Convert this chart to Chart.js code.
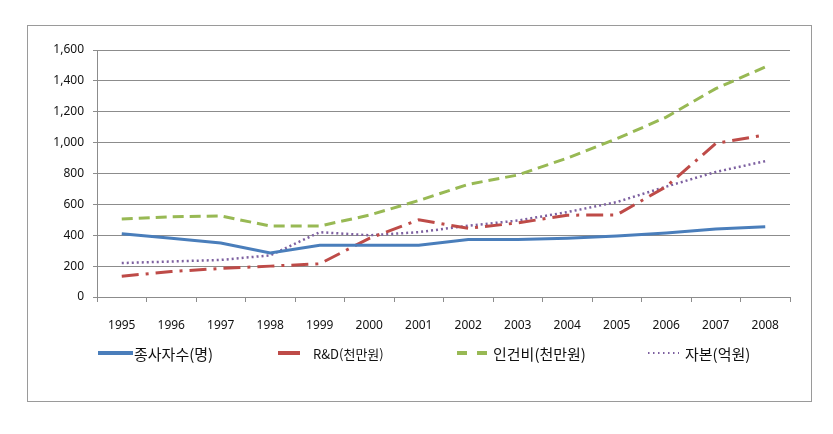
<!DOCTYPE html>
<html>
<head>
<meta charset="utf-8">
<script src="https://cdn.jsdelivr.net/npm/chart.js@4/dist/chart.umd.min.js"></script>
<style>
  html, body { margin: 0; padding: 0; background: #fff; }
  #wrap { width: 833px; height: 434px; }
</style>
</head>
<body>
<div id="wrap"><canvas id="lineChart" width="833" height="434"></canvas></div>
<script>
const years = ['1995', '1996', '1997', '1998', '1999', '2000', '2001', '2002', '2003', '2004', '2005', '2006', '2007', '2008'];
const employees = [410, 380, 350, 285, 335, 335, 335, 372, 372, 380, 395, 415, 440, 455];
const rnd = [135, 165, 185, 200, 215, 380, 500, 445, 480, 530, 532, 715, 995, 1050];
const labor = [505, 520, 525, 460, 460, 530, 625, 730, 790, 900, 1025, 1165, 1350, 1490];
const capital = [220, 230, 240, 270, 420, 400, 420, 462, 495, 550, 615, 715, 810, 880];
const seriesNames = ['종사자수(명)', 'R&D(천만원)', '인건비(천만원)', '자본(억원)'];

const NUM_FONT = '"Noto Sans", "DejaVu Sans", sans-serif';
const KR_FONT = '"Noto Sans CJK KR", "Noto Sans", sans-serif';
const GRID = '#8c8c8c';

// frame around the whole chart + legend row drawn by hand
const framePlugin = {
  id: 'frame',
  beforeDraw(chart) {
    const ctx = chart.ctx;
    ctx.save();
    ctx.fillStyle = '#fff';
    ctx.fillRect(0, 0, chart.width, chart.height);
    ctx.strokeStyle = '#9a9a9a';
    ctx.lineWidth = 1;
    ctx.strokeRect(27.5, 25.5, 784, 376);
    ctx.restore();
  },
  afterDraw(chart) {
    const ctx = chart.ctx;
    // [line start, line end, text x, font size]
    const slots = [[98, 133, 134, 15], [278, 300, 313, 13], [457, 487, 493, 15], [648, 679, 685, 15]];
    const y = 353;
    ctx.save();
    chart.data.datasets.forEach((ds, i) => {
      const [x0, x1, tx, fs] = slots[i];
      ctx.strokeStyle = ds.borderColor;
      ctx.lineWidth = ds.legendWidth;
      ctx.setLineDash(ds.legendDash);
      ctx.lineCap = 'butt';
      ctx.beginPath();
      ctx.moveTo(x0, y);
      ctx.lineTo(x1, y);
      ctx.stroke();
      ctx.setLineDash([]);
      ctx.fillStyle = '#111';
      ctx.font = fs + 'px ' + KR_FONT;
      ctx.textBaseline = 'middle';
      ctx.fillText(ds.label, tx, y + 1);
    });
    ctx.restore();
  }
};

new Chart(document.getElementById('lineChart').getContext('2d'), {
  type: 'line',
  data: {
    labels: years,
    datasets: [{
      label: seriesNames[0],
      data: employees,
      borderColor: '#4a7ebb',
      borderWidth: 3,
      legendDash: [],
      legendWidth: 4
    }, {
      label: seriesNames[1],
      data: rnd,
      borderColor: '#be4b48',
      borderWidth: 3,
      borderDash: [17, 7, 3, 7],
      legendDash: [],
      legendWidth: 4
    }, {
      label: seriesNames[2],
      data: labor,
      borderColor: '#98b954',
      borderWidth: 3,
      borderDash: [11, 6],
      legendDash: [10, 10],
      legendWidth: 4
    }, {
      label: seriesNames[3],
      data: capital,
      borderColor: '#7d60a0',
      borderWidth: 2.5,
      borderDash: [2, 3],
      legendDash: [1.5, 3.5],
      legendWidth: 2
    }]
  },
  options: {
    responsive: false,
    animation: false,
    layout: { padding: { left: 27, right: 43, top: 50, bottom: 0 } },
    elements: {
      point: { radius: 0, hoverRadius: 0 },
      line: { tension: 0, fill: false }
    },
    plugins: {
      legend: { display: false },
      tooltip: { enabled: false }
    },
    scales: {
      y: {
        min: 0,
        max: 1600,
        afterFit: s => { s.width = 70; },
        ticks: {
          stepSize: 200,
          color: '#111',
          padding: 9,
          font: { family: NUM_FONT, size: 12 },
          callback: v => v.toLocaleString('en-US')
        },
        grid: { color: GRID, lineWidth: 1, tickLength: 4 },
        border: { display: true, color: GRID }
      },
      x: {
        offset: true,
        afterFit: s => { s.height = 137; },
        ticks: {
          color: '#111',
          padding: 16,
          maxRotation: 0,
          font: { family: NUM_FONT, size: 12 }
        },
        grid: {
          offset: true,
          drawOnChartArea: false,
          color: GRID,
          tickLength: 5
        },
        border: { display: true, color: GRID }
      }
    }
  },
  plugins: [framePlugin]
});
</script>
</body>
</html>
